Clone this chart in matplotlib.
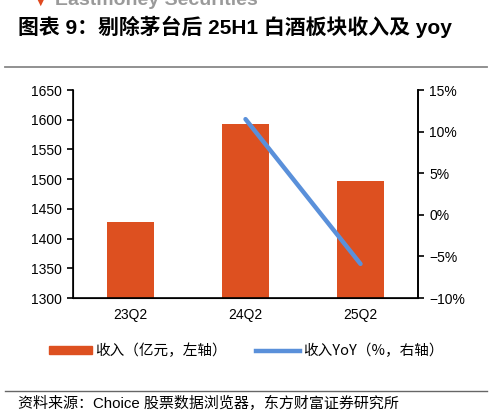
import numpy as np
import matplotlib.pyplot as plt
from matplotlib.lines import Line2D
from matplotlib.patches import Patch

plt.rcParams['font.family'] = ['Liberation Sans', 'Noto Sans CJK SC', 'DejaVu Sans']
plt.rcParams['axes.unicode_minus'] = True

# datos
quarters = ['23Q2', '24Q2', '25Q2']
revenue = [1428, 1593, 1497]        # 亿元
yoy_quarters = ['24Q2', '25Q2']
yoy = [11.5, -5.9]                  # %
yoy_ticks = [-10, -5, 0, 5, 10, 15]

bar_color = '#DD5020'
line_color = '#5A90DA'

fig = plt.figure(figsize=(4.92, 4.15), dpi=100)
ax = fig.add_axes([0.1484, 0.2819, 0.7012, 0.5012])

x = np.arange(len(quarters))
ax.bar(x, revenue, width=0.41, color=bar_color, zorder=2)
ax.set_xlim(-0.5, 2.5)
ax.set_ylim(1300, 1650)
ax.set_yticks(np.arange(1300, 1651, 50))
ax.set_xticks(x)
ax.set_xticklabels(quarters)
ax.tick_params(axis='x', length=0, labelsize=10, pad=7)
ax.tick_params(axis='y', direction='out', length=4, width=1.2, labelsize=10, pad=4)
ax.spines['top'].set_visible(False)
for s in ['left', 'right', 'bottom']:
    ax.spines[s].set_linewidth(1.2)

ax2 = ax.twinx()
xi = [quarters.index(q) for q in yoy_quarters]
ax2.plot(xi, yoy, color=line_color, linewidth=3.2, solid_capstyle='round', zorder=3)
ax2.set_ylim(-10, 15)
ax2.set_yticks(yoy_ticks)
ax2.set_yticklabels([f'{v}%'.replace('-', '\u2212') for v in yoy_ticks])
ax2.tick_params(axis='y', direction='out', length=4, width=1.2, labelsize=10, pad=4)
ax2.spines['top'].set_visible(False)
ax2.spines['right'].set_linewidth(1.2)

# cabecera (logo cortado arriba, como en la imagen)
fig.text(0.075, 0.995, '\u25bc', color='#e04a20', fontsize=7, va='center', ha='left',
         family=['DejaVu Sans'])
fig.text(0.112, 0.998, 'Eastmoney Securities', color='#9a9a9a', fontsize=14,
         fontweight='bold', va='center', ha='left')
fig.text(0.037, 0.935, '图表 9：剔除茅台后 25H1 白酒板块收入及 yoy', fontsize=15,
         fontweight='bold', va='center', ha='left')
fig.add_artist(Line2D([0.01, 0.99], [0.838, 0.838], color='#888888', linewidth=1.3))
fig.add_artist(Line2D([0.01, 0.99], [0.058, 0.058], color='#666666', linewidth=1.0))

handles = [Patch(color=bar_color), Line2D([0], [0], color=line_color, linewidth=3.2)]
labels = ['收入（亿元，左轴）', '收入YoY（%，右轴）']
fig.legend(handles, labels, loc='center', bbox_to_anchor=(0.5, 0.154), ncol=2,
           frameon=False, prop={'family': ['Noto Sans CJK SC'], 'size': 10.5},
           handlelength=3.0, handleheight=0.5, columnspacing=2.0, handletextpad=0.2)

fig.text(0.037, 0.028, '资料来源：Choice 股票数据浏览器，东方财富证券研究所',
         fontsize=10.8, va='center', ha='left')

fig.savefig('out.png', dpi=100)
